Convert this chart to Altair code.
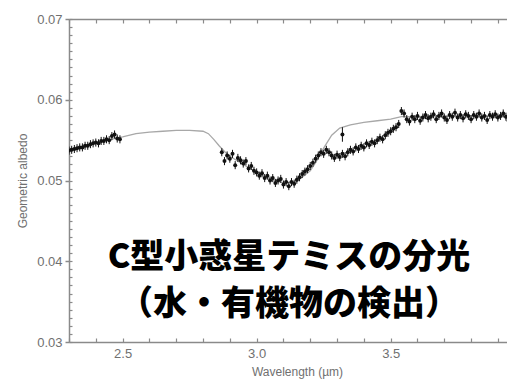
import altair as alt
import pandas as pd

# ---- data ----
seg1_wl = [2.30, 2.31, 2.32, 2.33, 2.34, 2.35, 2.36, 2.37, 2.38, 2.39,
           2.40, 2.41, 2.42, 2.43, 2.44, 2.45, 2.46, 2.47, 2.48, 2.49]
seg1_alb = [0.0537, 0.0538, 0.0539, 0.0540, 0.0541, 0.0541, 0.0543, 0.0543, 0.0545, 0.0546,
            0.0547, 0.0546, 0.0549, 0.0549, 0.0551, 0.0550, 0.0555, 0.0557, 0.0552, 0.0551]

seg2_start = 2.87
seg2_step = 0.01
seg2_alb = [0.0535, 0.0524, 0.0531, 0.0527, 0.0533, 0.0519, 0.0528, 0.0525, 0.0521, 0.0524,
            0.0515, 0.0518, 0.0512, 0.0510, 0.0506, 0.0509, 0.0503, 0.0506, 0.0500, 0.0503,
            0.0497, 0.0500, 0.0502, 0.0495, 0.0498, 0.0493, 0.0498, 0.0496, 0.0501, 0.0504,
            0.0508, 0.0511, 0.0514, 0.0518, 0.0522, 0.0527, 0.0531, 0.0535, 0.0533, 0.0538,
            0.0535, 0.0531, 0.0528, 0.0532, 0.0529, 0.0533, 0.0530, 0.0535, 0.0538, 0.0536,
            0.0541, 0.0539, 0.0543, 0.0541, 0.0546, 0.0544, 0.0548, 0.0546, 0.0550, 0.0553,
            0.0551, 0.0556, 0.0559, 0.0561, 0.0564, 0.0566, 0.0570, 0.0586, 0.0583, 0.0576,
            0.0573, 0.0579, 0.0576, 0.0580, 0.0574, 0.0578, 0.0581, 0.0577, 0.0579, 0.0582,
            0.0576, 0.0580, 0.0583, 0.0578, 0.0575, 0.0581, 0.0579, 0.0584, 0.0578, 0.0581,
            0.0577, 0.0582, 0.0580, 0.0576, 0.0581, 0.0579, 0.0583, 0.0578, 0.0580, 0.0575,
            0.0581, 0.0579, 0.0582, 0.0578, 0.0580, 0.0583, 0.0579, 0.0574, 0.0581, 0.0580,
            0.0584, 0.0578, 0.0582, 0.0580]
seg2_wl = [round(seg2_start + seg2_step * i, 2) for i in range(len(seg2_alb))]

outlier_wl = [3.32]
outlier_alb = [0.0557]
outlier_err = [0.0009]
point_err = 0.0005

model_wl = [2.30, 2.40, 2.50, 2.55, 2.60, 2.65, 2.70, 2.75, 2.80, 2.82, 2.84, 2.86, 2.88,
            2.90, 2.95, 3.00, 3.05, 3.10, 3.15, 3.20, 3.22, 3.25, 3.28, 3.31, 3.35, 3.40,
            3.45, 3.50, 3.54, 3.60, 3.70, 3.80, 3.90, 4.00]
model_alb = [0.0538, 0.0547, 0.0554, 0.0558, 0.0560, 0.0561, 0.0562, 0.0562, 0.0561, 0.0558,
             0.0551, 0.0543, 0.0536, 0.0530, 0.0520, 0.0510, 0.0502, 0.0497, 0.0499, 0.0512,
             0.0522, 0.0540, 0.0556, 0.0565, 0.0569, 0.0572, 0.0574, 0.0576, 0.0579, 0.0579,
             0.0580, 0.0580, 0.0580, 0.0581]

y_major = [0.03, 0.04, 0.05, 0.06, 0.07]
y_minor = [round(0.03 + 0.001 * i, 3) for i in range(41)]
x_major = [2.5, 3.0, 3.5, 4.0]
x_minor = [round(2.3 + 0.1 * i, 1) for i in range(18)]
x_view = [2.3, 3.934]   # the picture is cut off just before 4.0

overlay_lines = ["C型小惑星テミスの分光", "（水・有機物の検出）"]

# ---- frames ----
pts = pd.DataFrame({"wl": seg1_wl + seg2_wl, "alb": seg1_alb + seg2_alb})
pts["err"] = point_err
out = pd.DataFrame({"wl": outlier_wl, "alb": outlier_alb, "err": outlier_err})
allpts = pd.concat([pts, out], ignore_index=True)
model = pd.DataFrame({"wl": model_wl, "alb": model_alb})

GRAY = "#8a8a8a"
LBL = "#707070"
FONT = "Liberation Sans"

xs = alt.Scale(domain=x_view, nice=False, zero=False)
ys = alt.Scale(domain=[0.03, 0.07], nice=False, zero=False)

line = alt.Chart(model).mark_line(color="#a8a8a8", strokeWidth=1.3, clip=True).encode(
    x=alt.X("wl:Q", scale=xs, axis=alt.Axis(
        values=x_major, format=".1f", title="Wavelength (µm)", tickSize=0,
        labelPadding=5, titlePadding=6, domainColor=GRAY, domainWidth=1.5,
        labelColor=LBL, titleColor=LBL, labelFont=FONT, titleFont=FONT,
        labelFontSize=13, titleFontSize=12, titleFontWeight="normal", grid=False,
        titleX=228)),
    y=alt.Y("alb:Q", scale=ys, axis=alt.Axis(
        values=y_major, format=".2f", title="Geometric albedo", tickSize=4,
        tickColor=GRAY, tickWidth=1.5, labelPadding=3, titlePadding=7,
        domainColor=GRAY, domainWidth=1.5, labelColor=LBL, titleColor=LBL,
        labelFont=FONT, titleFont=FONT, labelFontSize=13, titleFontSize=12,
        titleFontWeight="normal", grid=False)),
)

errs = alt.Chart(allpts).transform_calculate(
    lo="datum.alb - datum.err", hi="datum.alb + datum.err"
).mark_rule(color="#111", strokeWidth=1, clip=True).encode(
    x=alt.X("wl:Q", scale=xs, axis=alt.Axis(
        orient="top", values=x_major, labels=False, ticks=False, domain=True,
        domainColor=GRAY, domainWidth=1.5, title=None, grid=False)),
    y=alt.Y("lo:Q", scale=ys, axis=None),
    y2="hi:Q",
)

dots = alt.Chart(pts).mark_circle(color="#111", size=16, opacity=1, clip=True).encode(
    x=alt.X("wl:Q", scale=xs, axis=alt.Axis(
        orient="top", values=x_minor, labels=False, domain=False, title=None,
        tickSize=4, offset=-4, tickColor=GRAY, tickWidth=1.2, grid=False)),
    y=alt.Y("alb:Q", scale=ys, axis=alt.Axis(
        orient="left", values=y_minor, labels=False, domain=False, title=None,
        tickSize=3, offset=-3, tickColor=GRAY, tickWidth=1.2, grid=False)),
)

odot = alt.Chart(out).mark_circle(color="#111", size=16, opacity=1, clip=True).encode(
    x=alt.X("wl:Q", scale=xs, axis=alt.Axis(
        orient="bottom", values=x_minor, labels=False, domain=False, title=None,
        tickSize=4, offset=-4, tickColor=GRAY, tickWidth=1.2, grid=False)),
    y=alt.Y("alb:Q", scale=ys, axis=None),
)

txt_df = pd.DataFrame({"t": overlay_lines, "row": [0, 1]})
txt1 = alt.Chart(txt_df).transform_filter("datum.row == 0").mark_text(
    font="Noto Sans CJK JP", fontSize=34, fontWeight=900, color="black",
    align="center", baseline="middle"
).encode(text="t:N", x=alt.value(220), y=alt.value(239))
txt2 = alt.Chart(txt_df).transform_filter("datum.row == 1").mark_text(
    font="Noto Sans CJK JP", fontSize=34, fontWeight=900, color="black",
    align="center", baseline="middle"
).encode(text="t:N", x=alt.value(220), y=alt.value(286))

chart = alt.layer(line, errs, dots, odot, txt1, txt2).resolve_axis(
    x="independent", y="independent"
).properties(
    width=438, height=323,
    autosize=alt.AutoSizeParams(type="none"),
    padding={"left": 61, "top": 11, "right": 0, "bottom": 38},
    background="white",
).configure_view(stroke=None)

chart.save("out.html", embed_options={"renderer": "svg", "actions": False})
